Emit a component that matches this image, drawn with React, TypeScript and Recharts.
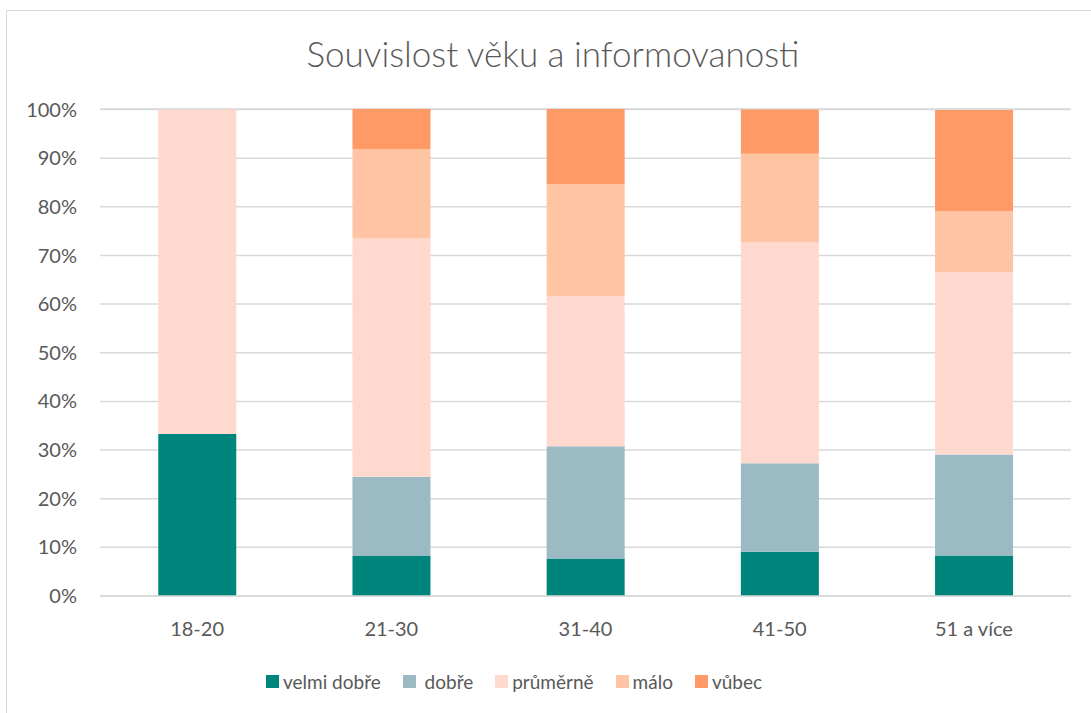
import React from "react";
import { BarChart, Bar, XAxis, YAxis, CartesianGrid, Legend } from "recharts";

const categories = ["18-20", "21-30", "31-40", "41-50", "51 a více"];
const velmiDobre = [33.3, 8.2, 7.7, 9.1, 8.3];
const dobre = [0, 16.3, 23.1, 18.2, 20.8];
const prumerne = [66.7, 49.0, 30.8, 45.4, 37.5];
const malo = [0, 18.4, 23.1, 18.2, 12.5];
const vubec = [0, 8.2, 15.4, 9.1, 20.8];
const yTicks = [0, 10, 20, 30, 40, 50, 60, 70, 80, 90, 100];

const seriesNames = ["velmi dobře", " dobře", "průměrně", "málo", "vůbec"];
const seriesKeys = ["velmiDobre", "dobre", "prumerne", "malo", "vubec"];
const seriesColors = ["#00857D", "#9BBAC4", "#FFD9CE", "#FFC4A3", "#FF9966"];
const seriesValues = [velmiDobre, dobre, prumerne, malo, vubec];

const data = categories.map((c, i) => {
  const row: Record<string, string | number> = { name: c };
  seriesKeys.forEach((k, j) => {
    row[k] = seriesValues[j][i];
  });
  return row;
});

const FONT = "Lato, 'Open Sans', sans-serif";

const LegendContent = () => (
  <div
    style={{
      display: "flex",
      justifyContent: "flex-start",
      gap: 22,
      fontFamily: FONT,
      fontSize: 19,
      color: "#595959",
      paddingLeft: 266,
    }}
  >
    {seriesNames.map((n, i) => (
      <div key={n} style={{ display: "flex", alignItems: "center" }}>
        <span
          style={{
            display: "inline-block",
            width: 13,
            height: 13,
            background: seriesColors[i],
            marginRight: 4,
          }}
        />
        <span style={{ whiteSpace: "pre" }}>{n}</span>
      </div>
    ))}
  </div>
);

export default function App() {
  return (
    <div
      style={{
        position: "absolute",
        left: 0,
        top: 0,
        width: 1091,
        height: 713,
        overflow: "hidden",
        background: "#fff",
      }}
    >
      <div
        style={{
          position: "absolute",
          left: 6,
          top: 10,
          width: 1120,
          height: 740,
          border: "1px solid #d9d9d9",
        }}
      />
      <div
        style={{
          position: "absolute",
          left: 0,
          top: 32,
          width: 1106,
          textAlign: "center",
          fontFamily: FONT,
          fontWeight: 300,
          fontSize: 35,
          color: "#595959",
        }}
      >
        Souvislost věku a informovanosti
      </div>
      <div style={{ position: "absolute", left: 0, top: 0 }}>
        <BarChart
          width={1091}
          height={713}
          data={data}
          margin={{ top: 109, right: 20, bottom: 77, left: 0 }}
          barCategoryGap="30%"
        >
          <CartesianGrid vertical={false} stroke="#d9d9d9" strokeWidth={1.5} />
          <XAxis
            dataKey="name"
            height={40}
            axisLine={{ stroke: "#d9d9d9", strokeWidth: 1.5 }}
            tickLine={false}
            tickMargin={20}
            tick={{ fill: "#595959", fontSize: 20, fontFamily: FONT }}
          />
          <YAxis
            width={100}
            domain={[0, 100]}
            ticks={yTicks}
            tickFormatter={(v: number) => `${v}%`}
            axisLine={false}
            tickLine={false}
            tickMargin={17}
            tick={{ fill: "#595959", fontSize: 20, fontFamily: FONT }}
          />
          <Legend
            layout="horizontal"
            verticalAlign="middle"
            align="center"
            content={<LegendContent />}
            wrapperStyle={{ top: 670, left: 0, width: 1091 }}
          />
          {seriesKeys.map((k, i) => (
            <Bar
              key={k}
              dataKey={k}
              name={seriesNames[i]}
              stackId="a"
              fill={seriesColors[i]}
              isAnimationActive={false}
            />
          ))}
        </BarChart>
      </div>
    </div>
  );
}
